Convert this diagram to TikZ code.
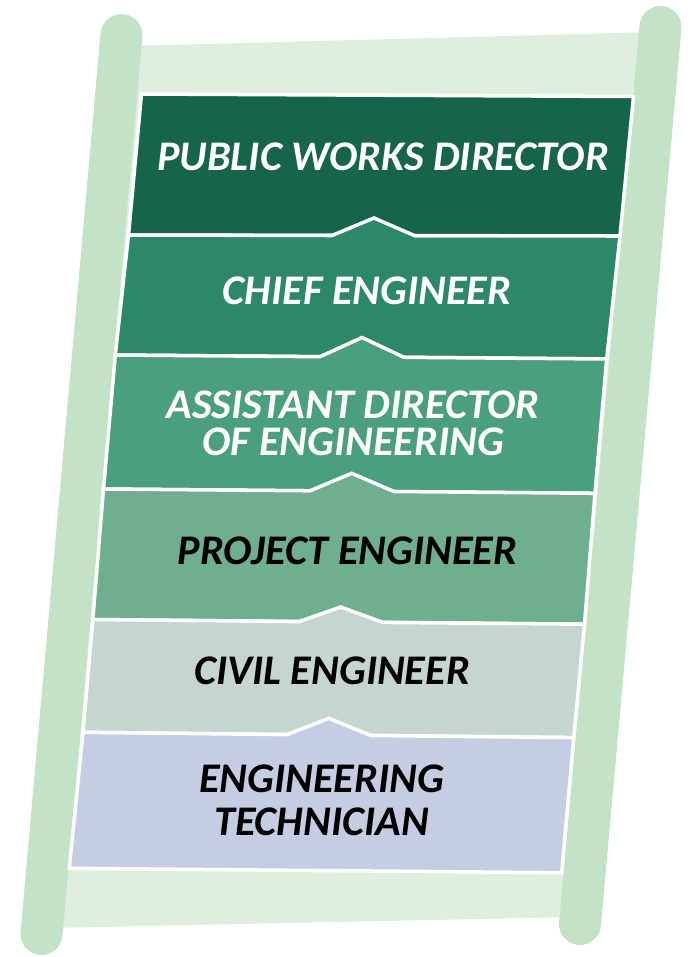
\documentclass[tikz,border=0pt]{standalone}
\usepackage{fontspec}                 % Polices systeme
\setmainfont{Carlito}                 % Metrique de Calibri
\usepackage{tikz}
\definecolor{railgreen}{HTML}{C3E2C6}
\definecolor{panelgreen}{HTML}{DEEEDF}
\definecolor{dirgreen}{HTML}{16644A}
\definecolor{chiefgreen}{HTML}{2D8867}
\definecolor{asstgreen}{HTML}{4A9F7D}
\definecolor{projgreen}{HTML}{6FAE8F}
\definecolor{civilgrey}{HTML}{C5D5CF}
\definecolor{techblue}{HTML}{C5CDE2}

\begin{document}
\begin{tikzpicture}[x=0.01cm,y=-0.01cm,
  rail/.style={railgreen,line width=0.42cm,line cap=round},
  rung/.style={draw=white,line width=1pt,line join=miter},
  lbl/.style={font=\fontsize{12}{12.2}\selectfont\bfseries\itshape,align=center,inner sep=0pt}]
\useasboundingbox(0,0)rectangle(695,957);
\fill[panelgreen](130,46)--(655,32)--(575,917)--(50,928)--cycle;
\draw[rail](121.5,35)--(41.5,934);
\draw[rail](660.5,27)--(580,924);
\fill[rung,fill=dirgreen](141.5,94)--(633.5,96.5)--(620,236)--(128.5,235)--cycle;
\fill[rung,fill=chiefgreen](128.5,235)--(332,235.5)--(374,218)--(415,235.8)--(620,236)--(606.7,359)--(115.3,355)--cycle;
\fill[rung,fill=asstgreen](115.3,355)--(320,356.7)--(362,337.5)--(404,357.3)--(606.7,359)--(595,493.3)--(103.5,489)--cycle;
\fill[rung,fill=projgreen](103.5,489)--(310,490.8)--(351.7,473.3)--(394,491.5)--(595,493.3)--(584.5,624.2)--(92.8,619.5)--cycle;
\fill[rung,fill=civilgrey](92.8,619.5)--(299,621.6)--(340.7,607)--(383,622.4)--(584.5,624.2)--(573.8,737.6)--(83,732.3)--cycle;
\fill[rung,fill=techblue](83,732.3)--(287,734.6)--(329,718.3)--(371,735.5)--(573.8,737.6)--(561.7,872.7)--(69.3,868.3)--cycle;
\node[lbl,white](pwd)at(383,157){PUBLIC WORKS DIRECTOR};
\node[lbl,white](chief)at(367,291){CHIEF ENGINEER};
\node[lbl,white](asst)at(353,423){ASSISTANT DIRECTOR\\[-1.7pt]OF ENGINEERING};
\node[lbl](proj)at(347.5,551){PROJECT ENGINEER};
\node[lbl](civil)at(332,671){CIVIL ENGINEER};
\node[lbl](tech)at(321.5,800){ENGINEERING\\TECHNICIAN};
\end{tikzpicture}
\end{document}
